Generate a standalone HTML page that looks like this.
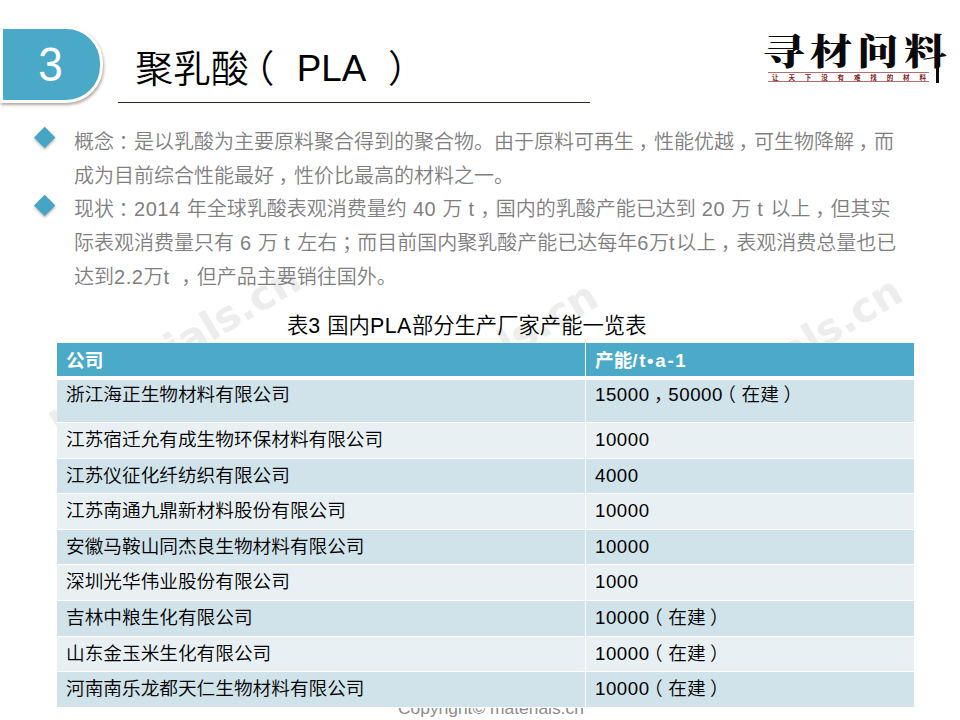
<!DOCTYPE html>
<html lang="zh-CN">
<head>
<meta charset="utf-8">
<title>聚乳酸（PLA）</title>
<style>
html,body{margin:0;padding:0;}
body{width:960px;height:720px;position:relative;overflow:hidden;background:#fff;
  font-family:"Liberation Sans","Noto Sans CJK SC",sans-serif;color:#000;font-weight:350;}
.abs{position:absolute;white-space:nowrap;}
/* watermark */
#wm{position:absolute;left:0;top:0;width:960px;height:720px;}
#wm text{font-family:"DejaVu Sans","Liberation Sans",sans-serif;font-weight:bold;font-size:41px;fill:#ededed;}
/* badge */
#badge{position:absolute;left:0px;top:26px;width:97px;height:71px;background:#4aa9c7;
  border:3px solid #fff;border-radius:0 37px 37px 0;box-shadow:1px 2px 3px rgba(90,60,40,.45);}
#badge span{position:absolute;left:-1px;width:100%;text-align:center;top:9px;font-size:48px;line-height:54px;color:#fff;transform:scale(.918,1.02);}
.tt{top:41px;font-size:37.8px;line-height:56px;}
#rule{position:absolute;left:118px;top:102px;width:472px;height:1px;background:#3b2622;}
/* bullets */
.dm{position:absolute;width:15.4px;height:15.4px;background:#45a5c4;transform:rotate(45deg);
  box-shadow:1px 1px 3px rgba(0,0,0,.35);}
.ln{position:absolute;left:74px;white-space:nowrap;font-size:20px;line-height:34px;color:#7f7f7f;font-weight:350;}
.n{letter-spacing:.55px;}
.t{letter-spacing:1.6px;}
.pc{position:relative;left:.23em;}
.po{position:relative;left:-.3em;}
.pe{position:relative;left:.24em;}
#cap{left:287px;top:311px;font-size:21.33px;line-height:30px;color:#000;}
/* table */
#tbl{position:absolute;left:57px;top:343px;width:857px;border-collapse:separate;border-spacing:0;
  font-size:18.67px;table-layout:fixed;background:#fff;}
#tbl td,#tbl th{padding:0 0 0 9px;text-align:left;vertical-align:top;font-weight:normal;
  border-bottom:1px solid #fff;box-sizing:border-box;white-space:nowrap;overflow:hidden;}
#tbl th{background:#4baac7;color:#fff;font-weight:bold;height:36.5px;line-height:30px;padding-top:2.5px;border-bottom:4px solid #fff;font-size:18.67px;}
#tbl td{height:35.6px;line-height:33px;font-weight:350;}
#tbl tr.a td{background:#d0e2ea;}
#tbl tr.b td{background:#e9f0f4;}
#tbl .c1{width:529px;border-right:1px solid #fff;}
#tbl tr.tall td{height:43.5px;line-height:30px;}
#copy{left:398px;top:697.5px;font-size:17.4px;line-height:20px;color:#8c8c8c;}
</style>
</head>
<body>
<svg id="wm" viewBox="0 0 960 720">
<text transform="translate(56.9 434.1) rotate(-30.8)">materials.cn</text>
<text transform="translate(354.1 451.3) rotate(-30.8)">materials.cn</text>
<text transform="translate(658.5 446.5) rotate(-30.8)">materials.cn</text>
</svg>

<div id="copy" class="abs">Copyright© materials.cn</div>

<div id="badge"><span>3</span></div>
<div class="abs tt" style="left:135.3px;">聚乳酸</div>
<div class="abs tt" style="left:236.5px;">（</div>
<div class="abs tt" style="left:296.7px;font-size:36.8px;">PLA</div>
<div class="abs tt" style="left:388px;">）</div>
<div id="rule"></div>

<svg id="logo" width="200" height="70" viewBox="0 0 200 70" style="position:absolute;left:755px;top:25px;">
<text transform="translate(7.5 40) scale(1.17 1)" font-family="'Noto Serif CJK SC','Liberation Serif',serif" font-weight="900" font-size="36" letter-spacing="4.4" fill="#0a0a0a">寻材问料</text>
<rect x="181" y="30" width="3" height="28" fill="#0a0a0a"/>
<rect x="13" y="47" width="161" height="0.8" fill="#a04a4a"/>
<rect x="13" y="56" width="161" height="0.8" fill="#a04a4a"/>
<text x="17" y="55.2" font-family="'Liberation Sans','Noto Sans CJK SC',sans-serif" font-weight="bold" font-size="6.5" textLength="154" lengthAdjust="spacing" fill="#7a2323">让天下没有难找的材料</text>
</svg>

<div class="dm" style="left:37.3px;top:129.8px;"></div>
<div class="dm" style="left:37.3px;top:197.8px;"></div>
<div class="ln" style="top:125px;">概念<span class="pc">：</span>是以乳酸为主要原料聚合得到的聚合物。由于原料可再生<span class="pc">，</span>性能优越<span class="pc">，</span>可生物降解<span class="pc">，</span>而</div>
<div class="ln" style="top:159px;">成为目前综合性能最好<span class="pc">，</span>性价比最高的材料之一。</div>
<div class="ln" style="top:192px;">现状<span class="pc">：</span><span class="n">2014 </span>年全球乳酸表观消费量约<span class="n"> 40 </span>万<span class="n"> </span><span class="t">t</span><span class="pc">，</span>国内的乳酸产能已达到<span class="n"> 20 </span>万<span class="n"> </span><span class="t">t</span><span class="n"> </span>以上<span class="pc">，</span>但其实</div>
<div class="ln" style="top:226px;">际表观消费量只有<span class="n"> 6 </span>万<span class="n"> </span><span class="t">t</span><span class="n"> </span>左右<span class="pc">；</span>而目前国内聚乳酸产能已达每年<span class="n">6</span>万<span class="t">t</span>以上<span class="pc">，</span>表观消费总量也已</div>
<div class="ln" style="top:260px;">达到<span class="n">2.2</span>万<span class="t">t</span><span class="n"> </span><span class="pc">，</span>但产品主要销往国外。</div>

<div id="cap" class="abs">表<span class="n">3 </span>国内<span class="n">PLA</span>部分生产厂家产能一览表</div>

<table id="tbl">
<tr><th class="c1">公司</th><th>产能<span style="letter-spacing:1.7px">/t•a-1</span></th></tr>
<tr class="a tall"><td class="c1">浙江海正生物材料有限公司</td><td><span class="n">15000</span><span class="pc">，</span><span class="n">50000</span><span class="po">（</span>在建<span class="pe">）</span></td></tr>
<tr class="b"><td class="c1">江苏宿迁允有成生物环保材料有限公司</td><td><span class="n">10000</span></td></tr>
<tr class="a"><td class="c1">江苏仪征化纤纺织有限公司</td><td><span class="n">4000</span></td></tr>
<tr class="b"><td class="c1">江苏南通九鼎新材料股份有限公司</td><td><span class="n">10000</span></td></tr>
<tr class="a"><td class="c1">安徽马鞍山同杰良生物材料有限公司</td><td><span class="n">10000</span></td></tr>
<tr class="b"><td class="c1">深圳光华伟业股份有限公司</td><td><span class="n">1000</span></td></tr>
<tr class="a"><td class="c1">吉林中粮生化有限公司</td><td><span class="n">10000</span><span class="po">（</span>在建<span class="pe">）</span></td></tr>
<tr class="b"><td class="c1">山东金玉米生化有限公司</td><td><span class="n">10000</span><span class="po">（</span>在建<span class="pe">）</span></td></tr>
<tr class="a"><td class="c1">河南南乐龙都天仁生物材料有限公司</td><td><span class="n">10000</span><span class="po">（</span>在建<span class="pe">）</span></td></tr>
</table>
</body>
</html>
